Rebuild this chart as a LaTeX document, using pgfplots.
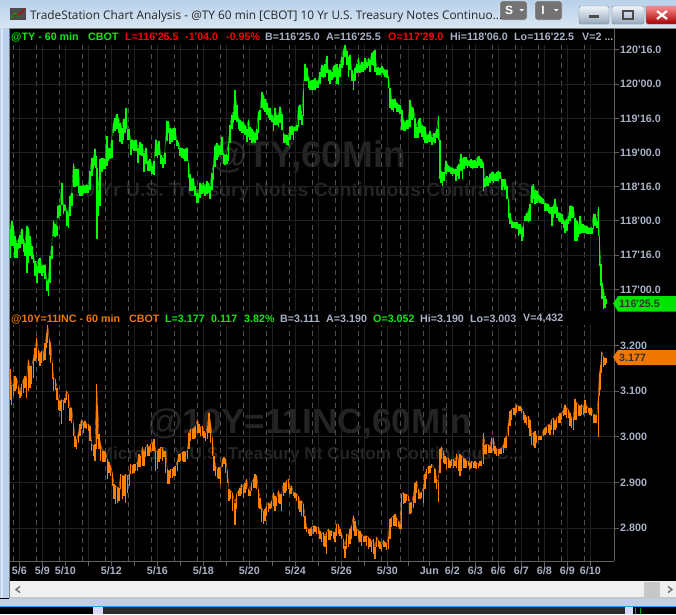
\documentclass[border=0pt]{standalone}
\usepackage{fontspec}
\setmainfont{Liberation Sans}
\newfontfamily\titlefont{Open Sans}
\usepackage{pgfplots}
\usepackage{pgfplotstable}
\pgfplotsset{compat=1.18}

\definecolor{tygreen}{HTML}{00FF00}
\definecolor{yorange}{HTML}{FF8000}
\definecolor{txtgreen}{HTML}{10E810}
\definecolor{txtorange}{HTML}{F07800}
\definecolor{txtgrey}{HTML}{A8B2C4}
\definecolor{gridc}{HTML}{202020}
\definecolor{dashc}{HTML}{505050}
\definecolor{axisc}{HTML}{606060}
\definecolor{wmark}{HTML}{242424}
\definecolor{chrome}{HTML}{B9D1EA}

\newcommand{\q}{\textquotesingle}
\newcommand{\lab}{\fontsize{10.7}{12}\bfseries\selectfont}

% @TY 60 min: x = bar position, hi / lo of each bar
\pgfplotstableread{
x hi lo
10.0 117.88 117.46
11.7 118.00 117.63
13.3 117.93 117.63
15.0 117.78 117.46
16.7 117.68 117.46
18.3 117.73 117.59
20.0 117.80 117.61
21.7 117.88 117.66
23.3 117.73 117.54
25.0 117.68 117.49
26.7 117.93 117.24
28.3 117.90 117.39
30.0 117.78 117.49
31.7 117.63 117.44
33.3 117.51 117.39
35.0 117.41 117.20
36.7 117.34 117.10
38.3 117.44 117.24
40.0 117.46 117.24
41.7 117.34 117.20
43.3 117.36 117.24
45.0 117.36 117.15
46.7 117.12 116.98
48.3 117.15 116.90
50.0 117.49 117.10
51.7 117.63 117.44
53.3 118.00 117.78
55.0 117.95 117.76
56.7 117.93 117.78
57.7 118.22 118.05
60.0 118.24 118.07
61.7 118.56 118.24
63.3 118.24 118.10
65.0 118.24 118.15
66.7 118.15 117.93
68.3 118.10 117.90
70.0 118.37 118.07
71.7 118.41 118.22
73.3 118.83 118.49
75.0 118.76 118.49
76.7 118.76 118.51
78.3 118.76 118.41
80.0 118.51 118.37
81.7 118.51 118.37
83.3 118.53 118.39
85.0 118.51 118.41
86.7 118.53 118.41
88.3 118.51 118.41
90.0 118.73 118.46
91.7 118.92 118.66
93.3 118.92 118.76
95.0 119.05 118.80
96.0 118.95 118.78
97.0 118.78 117.73
98.3 118.46 118.07
100.0 118.90 118.22
101.7 118.92 118.71
103.3 118.92 118.76
105.0 118.90 118.76
106.7 119.24 118.80
108.3 119.05 118.88
110.0 119.07 118.90
111.7 119.19 118.92
113.3 119.44 119.29
115.0 119.51 119.31
116.7 119.56 119.34
118.3 119.51 119.29
120.0 119.44 119.15
121.7 119.36 119.12
123.3 119.49 119.19
125.0 119.49 119.29
126.0 119.65 119.34
127.3 119.34 119.19
129.0 119.34 119.19
130.7 119.19 118.97
132.3 119.19 119.05
134.0 119.17 119.02
136.0 119.19 119.02
138.0 119.07 118.85
140.0 119.15 118.97
142.0 119.12 118.95
144.0 119.00 118.71
146.0 119.07 118.83
148.0 118.88 118.73
150.0 118.90 118.73
152.0 118.80 118.68
154.0 118.88 118.67
155.7 119.19 118.95
157.3 119.10 118.92
159.0 119.17 118.97
160.7 118.97 118.83
162.7 118.92 118.78
164.7 119.00 118.83
166.7 119.46 119.17
168.3 119.46 119.29
170.0 119.36 119.12
171.7 119.34 119.15
173.3 119.36 119.19
175.0 119.36 119.19
176.7 119.19 119.10
178.3 119.15 119.05
180.0 119.07 118.95
181.7 119.07 118.92
183.3 119.05 118.90
185.0 119.05 118.88
186.7 119.07 118.88
188.3 118.85 118.63
190.0 118.68 118.44
191.7 118.61 118.44
193.3 118.63 118.46
195.0 118.51 118.37
196.7 118.41 118.27
198.3 118.39 118.27
200.0 118.56 118.34
201.7 118.53 118.39
203.3 118.56 118.41
205.0 118.51 118.37
206.7 118.58 118.39
208.3 118.56 118.41
210.0 118.51 118.32
211.7 118.70 118.45
213.3 118.82 118.60
215.0 119.09 118.79
216.7 119.14 118.89
218.3 119.11 118.94
220.0 119.09 118.97
221.7 119.23 118.97
223.3 118.99 118.84
225.0 118.97 118.82
226.7 118.97 118.84
228.3 119.14 118.87
230.0 119.40 119.14
231.7 119.55 119.35
233.3 119.60 119.43
235.0 119.91 119.48
236.7 119.70 119.45
238.3 119.50 119.35
240.0 119.48 119.31
241.7 119.45 119.28
243.3 119.45 119.28
245.0 119.40 119.26
246.7 119.35 119.16
248.3 119.48 119.23
250.0 119.38 119.18
251.7 119.35 119.14
253.3 119.31 119.16
255.0 119.28 119.14
256.7 119.35 119.18
258.3 119.60 119.28
260.0 119.62 119.48
261.7 119.88 119.65
263.3 119.84 119.62
265.0 119.79 119.60
266.7 119.72 119.55
268.3 119.65 119.50
270.0 119.65 119.48
271.7 119.55 119.45
273.3 119.50 119.31
275.0 119.65 119.40
276.7 119.55 119.40
278.3 119.55 119.38
280.0 119.67 119.43
281.7 119.57 119.33
283.3 119.28 119.14
285.0 119.26 119.14
286.7 119.26 119.11
288.3 119.23 119.10
290.0 119.38 119.18
291.7 119.39 119.26
293.3 119.37 119.18
295.0 119.38 119.31
296.7 119.40 119.31
298.3 119.67 119.38
300.0 119.70 119.48
301.7 119.55 119.40
303.3 119.91 119.53
305.0 120.30 120.04
306.7 120.23 120.04
308.3 120.11 119.94
310.0 120.04 119.91
311.7 120.06 119.91
313.3 120.06 119.91
315.0 120.09 119.91
316.7 120.04 119.94
318.3 120.06 119.94
320.0 120.18 120.01
321.7 120.28 120.11
323.3 120.26 120.09
325.0 120.30 120.11
326.7 120.41 120.16
328.3 120.21 120.04
330.0 120.21 120.01
331.7 120.18 120.06
333.3 120.26 120.09
335.0 120.28 120.11
336.7 120.29 120.01
338.3 120.21 119.99
340.0 120.30 120.11
341.7 120.40 120.23
343.3 120.50 120.28
345.0 120.60 120.40
346.7 120.48 120.28
348.3 120.38 120.11
350.0 120.43 120.21
351.7 120.21 120.04
353.3 120.11 119.91
355.0 120.23 120.04
356.7 120.30 120.16
358.3 120.38 120.18
360.0 120.28 120.16
361.7 120.33 120.18
363.3 120.30 120.18
365.0 120.38 120.21
366.7 120.33 120.23
368.3 120.38 120.26
370.0 120.35 120.18
371.7 120.45 120.28
373.3 120.48 120.26
375.0 120.50 120.18
376.7 120.23 120.13
378.3 120.25 120.13
380.0 120.23 120.13
381.7 120.26 120.16
383.3 120.23 120.13
385.0 120.21 120.11
386.7 120.21 120.09
388.3 120.11 119.94
390.0 119.94 119.65
391.7 119.79 119.62
393.3 119.77 119.60
395.0 119.79 119.65
396.7 119.72 119.60
398.3 119.70 119.60
400.0 119.70 119.57
401.7 119.62 119.33
403.3 119.48 119.31
405.0 119.45 119.31
406.7 119.48 119.35
408.3 119.48 119.35
410.0 119.77 119.38
411.7 119.67 119.48
413.3 119.65 119.50
415.0 119.50 119.21
416.7 119.38 119.21
418.3 119.48 119.21
420.0 119.50 119.28
421.7 119.40 119.23
423.3 119.38 119.18
425.0 119.38 119.14
426.7 119.26 119.14
428.3 119.26 119.16
430.0 119.31 119.16
431.7 119.23 119.11
433.3 119.28 119.16
435.0 119.28 119.14
436.7 119.35 119.21
438.3 119.53 119.18
439.7 119.18 118.62
440.7 118.73 118.56
442.3 118.71 118.51
444.0 118.71 118.59
445.7 118.88 118.68
447.3 118.83 118.71
449.0 118.80 118.71
450.7 118.78 118.68
452.3 118.78 118.66
454.0 118.76 118.68
455.7 118.76 118.59
457.3 118.80 118.66
459.0 118.83 118.61
460.7 118.98 118.73
462.3 118.90 118.61
464.0 118.93 118.76
465.7 118.93 118.80
467.3 118.89 118.78
469.0 118.88 118.80
470.7 118.90 118.78
472.3 118.88 118.76
474.0 118.89 118.78
475.7 118.88 118.78
477.3 118.93 118.78
479.0 118.95 118.80
480.7 118.90 118.78
482.3 118.88 118.78
483.3 118.85 118.44
485.0 118.63 118.49
486.7 118.66 118.51
488.3 118.63 118.51
490.0 118.68 118.56
491.7 118.71 118.59
493.3 118.71 118.56
495.0 118.68 118.59
496.7 118.71 118.59
498.3 118.73 118.59
500.0 118.71 118.61
501.7 118.61 118.46
503.3 118.61 118.49
505.0 118.61 118.46
506.7 118.51 118.32
508.3 118.32 118.05
510.0 118.12 117.95
511.7 118.00 117.90
513.3 117.98 117.90
515.0 117.98 117.90
516.7 117.98 117.88
518.3 117.95 117.78
520.0 117.95 117.81
521.7 117.90 117.71
523.3 117.93 117.76
525.0 118.07 118.00
526.7 118.12 118.00
528.3 118.15 117.98
530.0 118.25 118.00
531.7 118.51 118.27
533.3 118.54 118.32
535.0 118.46 118.25
536.7 118.44 118.27
538.3 118.39 118.29
540.0 118.37 118.27
541.7 118.34 118.25
543.3 118.32 118.25
545.0 118.27 118.15
546.7 118.25 118.15
548.3 118.25 118.12
550.0 118.20 118.10
551.7 118.20 117.93
553.3 118.22 118.05
555.0 118.32 118.10
556.7 118.20 118.05
558.3 118.12 118.00
560.0 118.12 117.98
561.7 118.10 117.95
563.3 118.03 117.90
565.0 118.00 117.83
566.7 118.03 117.85
568.3 118.07 117.95
570.0 118.22 118.00
571.7 118.22 118.05
573.3 118.20 118.05
575.0 118.05 117.71
576.7 118.00 117.71
578.3 117.93 117.76
580.0 118.07 117.81
581.7 117.95 117.83
583.3 117.95 117.83
585.0 117.93 117.83
586.7 117.93 117.81
588.3 117.90 117.81
590.0 117.90 117.81
591.7 117.90 117.81
593.3 118.10 117.88
595.0 118.10 117.93
596.7 118.00 117.90
598.3 118.20 117.78
599.3 117.78 117.34
600.7 117.37 117.05
602.0 117.10 116.86
603.3 117.00 116.71
605.0 116.90 116.73
606.0 116.86 116.78
}\tydata

% @10Y=11INC 60 min
\pgfplotstableread{
x hi lo
10.0 3.148 3.082
11.7 3.111 3.071
13.3 3.115 3.089
15.0 3.133 3.100
16.7 3.129 3.104
18.3 3.111 3.093
20.0 3.100 3.086
21.7 3.115 3.089
23.3 3.126 3.097
25.0 3.133 3.108
26.7 3.129 3.086
28.3 3.169 3.100
30.0 3.155 3.108
31.7 3.155 3.115
33.3 3.173 3.129
35.0 3.195 3.166
36.7 3.217 3.173
38.3 3.191 3.166
40.0 3.184 3.155
41.7 3.188 3.162
43.3 3.184 3.166
45.0 3.206 3.169
46.7 3.228 3.195
47.7 3.246 3.206
49.3 3.213 3.180
50.7 3.206 3.162
52.3 3.162 3.126
53.7 3.129 3.100
55.3 3.126 3.102
57.0 3.108 3.082
58.3 3.082 3.060
60.0 3.078 3.057
61.7 3.082 3.028
63.3 3.078 3.060
65.0 3.086 3.075
66.7 3.100 3.082
68.3 3.093 3.064
70.0 3.064 3.035
71.7 3.064 3.031
73.3 3.031 3.002
75.0 3.002 2.977
76.7 2.991 2.973
78.3 3.009 2.987
80.0 3.028 3.002
81.7 3.038 3.017
83.3 3.031 3.009
85.0 3.035 3.020
86.7 3.028 3.017
88.3 3.028 3.013
90.0 3.024 2.991
91.7 2.984 2.969
93.3 2.980 2.958
95.0 2.984 2.947
96.7 3.115 2.973
97.7 3.068 2.995
99.0 3.006 2.973
100.7 2.984 2.947
102.3 2.969 2.944
104.0 2.969 2.944
105.7 2.966 2.944
107.3 2.951 2.907
109.0 2.944 2.922
110.7 2.936 2.915
112.3 2.922 2.893
114.0 2.896 2.864
115.7 2.893 2.853
117.3 2.889 2.856
119.0 2.889 2.860
120.7 2.918 2.885
122.3 2.915 2.864
124.0 2.915 2.871
125.7 2.918 2.856
127.3 2.915 2.878
129.3 2.918 2.893
130.7 2.940 2.918
132.3 2.936 2.918
134.0 2.940 2.922
135.7 2.940 2.926
137.3 2.944 2.926
139.0 2.962 2.933
140.7 2.955 2.933
142.3 2.977 2.936
144.0 2.969 2.936
145.7 2.977 2.955
147.3 2.984 2.958
149.0 2.977 2.958
150.7 2.984 2.966
152.3 2.987 2.969
154.0 2.995 2.969
155.7 2.969 2.926
157.3 2.969 2.929
159.0 2.973 2.944
160.7 2.977 2.951
162.3 2.977 2.947
164.0 2.969 2.955
165.7 2.969 2.922
167.3 2.929 2.896
169.0 2.926 2.896
170.7 2.929 2.911
172.3 2.929 2.911
174.0 2.933 2.915
175.7 2.936 2.915
177.3 2.947 2.925
179.0 2.962 2.944
180.7 2.962 2.947
182.3 2.966 2.947
184.0 2.969 2.944
185.7 2.966 2.944
187.3 2.969 2.951
189.0 3.009 2.973
190.7 3.017 2.991
192.3 3.017 2.995
194.0 3.020 2.995
195.7 3.024 2.998
197.3 3.038 3.009
199.0 3.028 3.009
200.7 3.020 3.002
202.3 3.024 3.002
204.0 3.013 2.998
205.7 3.006 2.991
207.3 3.024 2.995
209.0 3.053 3.009
210.7 3.031 2.987
212.3 2.998 2.958
214.0 2.958 2.926
215.7 2.936 2.915
217.3 2.929 2.911
219.0 2.933 2.907
220.7 2.926 2.896
222.3 2.951 2.933
224.0 2.955 2.940
225.7 2.951 2.922
227.3 2.926 2.900
229.0 2.885 2.860
230.7 2.882 2.864
232.3 2.878 2.838
235.0 2.856 2.807
236.7 2.875 2.842
238.3 2.882 2.871
240.0 2.889 2.871
241.7 2.896 2.875
243.3 2.889 2.867
245.0 2.900 2.878
246.7 2.907 2.885
248.3 2.885 2.871
250.0 2.882 2.871
251.7 2.900 2.882
253.3 2.907 2.889
255.0 2.918 2.889
256.7 2.915 2.885
258.3 2.885 2.845
260.0 2.867 2.842
261.7 2.845 2.813
263.3 2.835 2.809
265.0 2.842 2.816
266.7 2.849 2.827
268.3 2.856 2.835
270.0 2.853 2.842
271.7 2.860 2.845
273.3 2.878 2.849
275.0 2.871 2.838
276.7 2.867 2.849
278.3 2.882 2.856
280.0 2.875 2.853
281.7 2.875 2.838
283.3 2.900 2.871
285.0 2.900 2.878
286.7 2.904 2.882
288.3 2.907 2.885
290.0 2.889 2.875
291.7 2.893 2.875
293.3 2.878 2.871
295.0 2.878 2.867
296.7 2.875 2.860
298.3 2.871 2.842
300.0 2.860 2.835
301.7 2.860 2.827
303.3 2.853 2.824
305.0 2.827 2.798
306.7 2.802 2.791
308.3 2.798 2.787
310.0 2.798 2.783
311.7 2.802 2.783
313.3 2.805 2.787
315.0 2.805 2.791
316.7 2.802 2.787
318.3 2.802 2.787
320.0 2.794 2.776
321.7 2.787 2.769
323.3 2.791 2.762
325.0 2.783 2.758
326.7 2.791 2.743
328.3 2.798 2.773
330.0 2.794 2.773
331.7 2.794 2.783
333.3 2.791 2.776
335.0 2.791 2.769
336.7 2.809 2.783
338.3 2.809 2.787
340.0 2.798 2.783
341.7 2.787 2.776
343.3 2.776 2.754
345.0 2.762 2.734
346.7 2.787 2.754
348.3 2.783 2.758
350.0 2.798 2.765
351.7 2.805 2.776
353.3 2.827 2.794
355.0 2.816 2.783
356.7 2.798 2.783
358.3 2.794 2.776
360.0 2.794 2.769
361.7 2.787 2.762
363.3 2.780 2.769
365.0 2.783 2.769
366.7 2.783 2.762
368.3 2.780 2.754
370.0 2.776 2.758
371.7 2.769 2.747
373.3 2.776 2.743
375.0 2.758 2.733
376.7 2.780 2.758
378.3 2.773 2.758
380.0 2.769 2.754
381.7 2.762 2.751
383.3 2.773 2.758
385.0 2.769 2.758
386.7 2.765 2.753
388.3 2.780 2.754
390.0 2.820 2.776
391.7 2.823 2.802
393.3 2.827 2.805
395.0 2.831 2.805
396.7 2.823 2.802
398.3 2.816 2.802
400.0 2.809 2.798
401.7 2.874 2.798
403.3 2.878 2.853
405.0 2.874 2.856
406.7 2.874 2.860
408.3 2.871 2.860
410.0 2.856 2.831
411.7 2.856 2.834
413.3 2.871 2.845
415.0 2.900 2.856
416.7 2.903 2.878
418.3 2.885 2.863
420.0 2.878 2.863
421.7 2.878 2.867
423.3 2.889 2.856
425.0 2.918 2.885
426.7 2.929 2.907
428.3 2.936 2.918
430.0 2.936 2.921
431.7 2.940 2.932
435.0 2.929 2.900
436.7 2.907 2.885
438.3 2.900 2.858
440.0 2.973 2.921
441.7 2.978 2.951
443.3 2.969 2.943
445.0 2.958 2.940
446.7 2.951 2.929
448.3 2.954 2.932
450.0 2.947 2.932
451.7 2.951 2.936
453.3 2.951 2.932
455.0 2.947 2.936
456.7 2.962 2.932
458.3 2.947 2.925
460.0 2.962 2.914
461.7 2.958 2.925
463.3 2.954 2.932
465.0 2.951 2.932
466.7 2.947 2.932
468.3 2.947 2.936
470.0 2.943 2.929
471.7 2.947 2.932
473.3 2.943 2.932
475.0 2.947 2.932
476.7 2.943 2.929
478.3 2.940 2.932
480.0 2.947 2.936
481.7 2.947 2.936
483.3 3.009 2.940
485.0 2.983 2.962
486.7 2.983 2.962
488.3 2.983 2.965
490.0 2.980 2.965
491.7 2.998 2.965
493.3 2.998 2.969
495.0 2.980 2.962
496.7 2.973 2.958
498.3 2.973 2.958
500.0 2.973 2.962
501.7 2.976 2.962
503.3 2.983 2.965
505.0 2.998 2.976
506.7 3.002 2.976
508.3 3.031 3.002
510.0 3.056 3.023
511.7 3.060 3.038
513.3 3.063 3.049
515.0 3.063 3.049
516.7 3.071 3.052
518.3 3.067 3.056
520.0 3.067 3.056
521.7 3.063 3.052
523.3 3.056 3.038
525.0 3.049 3.031
526.7 3.042 3.027
528.3 3.045 3.020
530.0 3.038 3.002
531.7 3.005 2.983
533.3 3.009 2.980
535.0 3.012 2.976
536.7 3.002 2.987
538.3 3.002 2.994
540.0 3.002 2.994
541.7 3.002 2.994
543.3 3.016 3.002
545.0 3.020 3.005
546.7 3.022 3.009
548.3 3.027 3.009
550.0 3.027 3.005
551.7 3.038 3.016
553.3 3.042 3.005
555.0 3.034 3.016
556.7 3.042 3.020
558.3 3.045 3.031
560.0 3.052 3.031
561.7 3.049 3.038
563.3 3.060 3.045
565.0 3.071 3.049
566.7 3.063 3.042
568.3 3.060 3.042
570.0 3.052 3.023
571.7 3.042 3.020
573.3 3.042 3.016
575.0 3.083 3.038
576.7 3.074 3.038
578.3 3.071 3.045
580.0 3.067 3.045
581.7 3.071 3.049
583.3 3.063 3.049
585.0 3.081 3.052
586.7 3.067 3.052
588.3 3.063 3.052
590.0 3.063 3.049
591.7 3.063 3.045
593.3 3.049 3.031
595.0 3.049 3.031
596.7 3.045 3.031
598.3 3.089 3.000
599.3 3.140 3.089
600.7 3.158 3.103
601.7 3.187 3.140
603.3 3.176 3.154
605.0 3.172 3.158
606.0 3.172 3.162
}\ydata
\begin{document}
\begin{tikzpicture}[x=1pt,y=1pt]
\path[use as bounding box] (0,0) rectangle (676,-614);
\fill[black] (0,0) rectangle (676,-614);

% window frame
\shade[top color=chrome,bottom color=chrome!55!white] (0,0) rectangle (676,-28);
\fill[chrome] (0,-28) rectangle (9,-598);
\fill[chrome!50!white] (1,-28) rectangle (3,-598);
\fill[white!94!black] (9,-581) rectangle (676,-597);
\fill[white!78!black] (9,-597) rectangle (676,-598.5);
\fill[chrome] (0,-598.5) rectangle (676,-606);
\fill[cyan!80!blue!85!white] (0,-606) rectangle (676,-607.2);
\fill[black!83] (103,-607.2) rectangle (625,-614);
\fill[white!85!blue] (93,-607.2) rectangle (103,-614);
\fill[white!85!blue] (625,-607.2) rectangle (633,-614);
\fill[tygreen!70!black] (635,-608) rectangle (636,-614);
\fill[tygreen!70!black] (640,-608) rectangle (641,-614);
\fill[white!78!black] (644,-582) rectangle (660,-597);
\draw[black!60,line width=1.3pt] (20,-586.5) -- (16,-589.5) -- (20,-592.5);
\draw[black!60,line width=1.3pt] (668,-586.5) -- (672,-589.5) -- (668,-592.5);
\draw[black!50,line width=1pt] (9,-28) -- (676,-28);
\draw[black!50,line width=1pt] (9,-28) -- (9,-598);

% title bar
\fill[black!70] (10,-20) rectangle (26,-8);
\draw[green!70!black,line width=1pt] (11,-18) -- (15,-13) -- (19,-17);
\draw[red!80!black,line width=1pt] (13,-16) -- (18,-15) -- (25,-9);
\fill[black!55,draw=white,rounded corners=2pt] (500,-1) rectangle (527,-20);
\fill[black!55,draw=white,rounded corners=2pt] (535,-1) rectangle (562,-20);
\fill[white] (519.5,-9) -- (524,-9) -- (521.7,-11.5) -- cycle;
\fill[white] (554,-9) -- (558.5,-9) -- (556.2,-11.5) -- cycle;
\shade[top color=white!80!chrome,bottom color=chrome!80!black,draw=black!50,rounded corners=1.5pt] (579,-6) rectangle (609,-24);
\shade[top color=white!80!chrome,bottom color=chrome!80!black,draw=black!50,rounded corners=1.5pt] (612,-6) rectangle (644,-24);
\shade[top color=red!45!white,bottom color=red!65!black,draw=black!50,rounded corners=1.5pt] (646,-6) rectangle (678,-24);
\fill[black!70] (589,-15) rectangle (599,-18);
\draw[black!70,line width=1.3pt] (623,-11) rectangle (633,-19);
\draw[white,line width=2.2pt] (657,-11) -- (667,-19) (667,-11) -- (657,-19);
\node[anchor=west,inner sep=0pt,text=black!85,font=\titlefont\fontsize{11.85}{14}\selectfont] at (30,-16) {TradeStation Chart Analysis - @TY 60 min [CBOT] 10 Yr U.S. Treasury Notes Continuo...};
\node[text=white,font=\fontsize{12}{14}\bfseries\selectfont] at (509,-10.5) {S};
\node[text=white,font=\fontsize{12}{14}\bfseries\selectfont] at (543,-10.5) {I};

% watermarks
\node[text=wmark,font=\fontsize{37}{40}\bfseries\selectfont,inner sep=0pt] at (309,-157) {@TY,60Min};
\node[text=wmark,font=\fontsize{19.3}{22}\bfseries\selectfont,inner sep=0pt] at (310,-192) {10 Yr U.S. Treasury Notes Continuous Contract [S...};
\node[text=wmark,font=\fontsize{35}{38}\bfseries\selectfont,inner sep=0pt] at (310,-424) {@10Y=11INC,60Min};
\node[text=wmark,font=\fontsize{17.2}{20}\bfseries\selectfont,inner sep=0pt] at (311,-455) {Micro 10 Y U.S. Treasury Nt Custom Continuous C...};

\pgfplotsset{panel/.style={
  scale only axis,
  width=604pt,
  xmin=10, xmax=614,
  axis y line=right,
  axis x line=bottom,
  axis line style={-,color=axisc,line width=1pt},
  xtick={19.3,42.3,65.3,88.3,111.3,134.3,157.3,180.3,203.3,226.3,249.3,272.3,295.3,318.3,341.3,364.3,387.3,408,429.3,452.3,475.3,498.3,521.3,544.3,567.3,590.3},
  minor xtick={13.3,36.3,59.3,82.3,105.3,128.3,151.3,174.3,197.3,220.3,243.3,266.3,289.3,312.3,335.3,358.3,381.3,400,423.3,446.3,469.3,492.3,515.3,538.3,561.3,584.3},
  xmajorgrids=true,
  xminorgrids=true,
  ymajorgrids=true,
  major grid style={color=gridc,line width=1pt},
  minor grid style={color=dashc,line width=.9pt,dash pattern=on 5pt off 4pt},
  major tick length=5pt,
  minor tick length=0pt,
  tick align=outside,
  tick style={color=axisc,line width=1pt},
  scaled ticks=false,
  tick label style={text=txtgrey,font=\lab,inner sep=0pt},
  yticklabel style={anchor=west,xshift=1pt},
}}

% upper panel
\begin{axis}[panel,
  at={(10pt,-311pt)}, anchor=south west,
  height=282pt,
  ymin=116.684, ymax=120.807,
  ytick={117,117.5,118,118.5,119,119.5,120,120.5},
  yticklabels={117\q00.0,117\q16.0,118\q00.0,118\q16.0,119\q00.0,119\q16.0,120\q00.0,120\q16.0},
  xticklabels={},
  x axis line style={draw=none},
  x tick style={draw=none},
]
\addplot[color=tygreen,line width=.4pt,no markers,
  error bars/.cd,y dir=minus,y explicit,error mark=none,
  error bar style={line width=1.6pt,color=tygreen}]
  table[x=x,y=hi,y error expr=\thisrow{hi}-\thisrow{lo}] {\tydata};
\end{axis}

% lower panel
\begin{axis}[panel,
  at={(10pt,-561pt)}, anchor=south west,
  height=250pt,
  ymin=2.728, ymax=3.276,
  ytick={2.8,2.9,3.0,3.1,3.2},
  yticklabels={2.800,2.900,3.000,3.100,3.200},
  xticklabels={5/6,5/9,5/10,,5/12,,5/16,,5/18,,5/20,,5/24,,5/26,,5/30,,Jun,6/2,6/3,6/6,6/7,6/8,6/9,6/10},
  xticklabel style={yshift=-1pt},
]
\addplot[color=yorange,line width=.4pt,no markers,
  error bars/.cd,y dir=minus,y explicit,error mark=none,
  error bar style={line width=1.4pt,color=yorange}]
  table[x=x,y=hi,y error expr=\thisrow{hi}-\thisrow{lo}] {\ydata};
\end{axis}

% header strips
\fill[black] (10,-29) rectangle (613.5,-45);
\fill[black] (10,-311) rectangle (613.5,-325);
\begin{scope}[every node/.style={anchor=west,inner sep=0pt,font=\lab}]
\node[text=txtgreen] at (11,-37) {@TY - 60 min};
\node[text=txtgreen] at (88,-37) {CBOT};
\node[text=red] at (125,-37) {L=116\q25.5};
\node[text=red] at (185,-37) {-1\q04.0};
\node[text=red] at (226,-37) {-0.95\%};
\node[text=txtgrey] at (265,-37) {B=116\q25.0};
\node[text=txtgrey] at (326,-37) {A=116\q25.5};
\node[text=red] at (388,-37) {O=117\q29.0};
\node[text=txtgrey] at (450,-37) {Hi=118\q06.0};
\node[text=txtgrey] at (514,-37) {Lo=116\q22.5};
\node[text=txtgrey] at (582,-37) {V=2 ...};
\node[text=txtorange] at (11,-319) {@10Y=11INC - 60 min};
\node[text=txtorange] at (129,-319) {CBOT};
\node[text=txtgreen] at (165,-319) {L=3.177};
\node[text=txtgreen] at (211,-319) {0.117};
\node[text=txtgreen] at (244,-319) {3.82\%};
\node[text=txtgrey] at (280,-319) {B=3.111};
\node[text=txtgrey] at (326,-319) {A=3.190};
\node[text=txtgreen] at (373,-319) {O=3.052};
\node[text=txtgrey] at (420,-319) {Hi=3.190};
\node[text=txtgrey] at (470,-319) {Lo=3.003};
\node[text=txtgrey] at (523,-319) {V=4,432};
\end{scope}

% last-price tags
\fill[tygreen!90!black] (613,-303.5) -- (618,-296) -- (676,-296) -- (676,-311.5) -- (618,-311.5) -- cycle;
\node[anchor=west,inner sep=0pt,font=\lab,text=black!80] at (619,-303.5) {116\q25.5};
\fill[txtorange] (613,-357) -- (618,-350) -- (676,-350) -- (676,-365) -- (618,-365) -- cycle;
\node[anchor=west,inner sep=0pt,font=\lab,text=black!80] at (619,-357.5) {3.177};
\end{tikzpicture}
\end{document}
